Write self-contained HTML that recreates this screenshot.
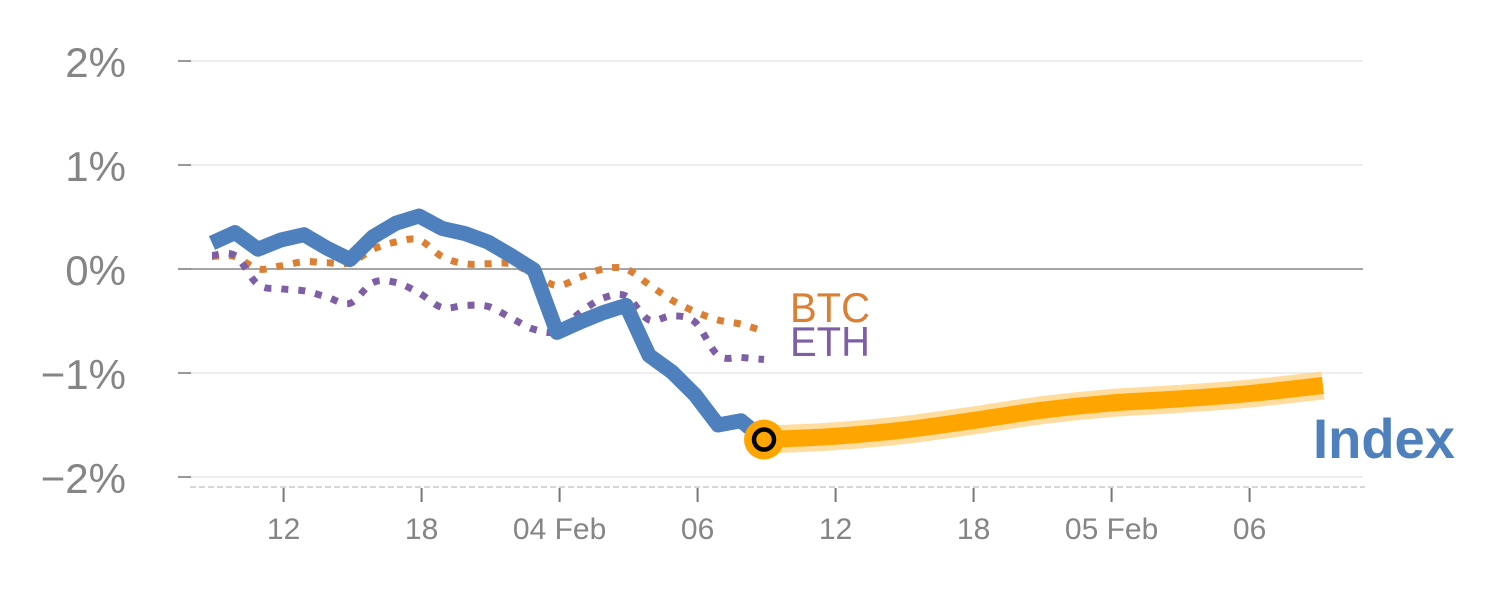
<!DOCTYPE html>
<html><head><meta charset="utf-8"><style>
html,body{margin:0;padding:0;background:#fff;}
svg{display:block;font-family:"Liberation Sans",Arial,sans-serif;}
</style></head><body>
<svg id="chart" width="1500" height="600" viewBox="0 0 1500 600" xmlns="http://www.w3.org/2000/svg">
<g id="grid"></g>
<g id="yaxis"></g>
<g id="xaxis"></g>
<g id="series"></g>
<text x="790" y="322" font-size="42" fill="#DB7F33" textLength="80" lengthAdjust="spacingAndGlyphs">BTC</text>
<text x="790" y="356" font-size="42" fill="#7E5FA6" textLength="80" lengthAdjust="spacingAndGlyphs">ETH</text>
<text x="1313" y="458" font-size="56" font-weight="bold" fill="#4E80BD" textLength="142" lengthAdjust="spacingAndGlyphs">Index</text>
</svg>
<script>
const yTicks = [2, 1, 0, -1, -2];
const yTickLabels = ["2%", "1%", "0%", "\u22121%", "\u22122%"];
const xTicks = [3.2, 9.2, 15.2, 21.2, 27.2, 33.2, 39.2, 45.2];
const xTickLabels = ["12", "18", "04 Feb", "06", "12", "18", "05 Feb", "06"];
const indexValues = [0.25,0.35,0.19,0.28,0.33,0.2,0.09,0.31,0.44,0.51,0.39,0.34,0.26,0.13,-0.01,-0.61,-0.51,-0.42,-0.35,-0.83,-0.99,-1.21,-1.5,-1.46,-1.64];
const btcValues = [0.12,0.12,0.0,0.03,0.07,0.06,0.06,0.19,0.26,0.28,0.12,0.05,0.05,0.05,-0.05,-0.16,-0.08,0.0,0.0,-0.15,-0.3,-0.41,-0.49,-0.53,-0.6];
const ethValues = [0.13,0.13,-0.15,-0.19,-0.21,-0.27,-0.33,-0.13,-0.13,-0.23,-0.37,-0.35,-0.36,-0.47,-0.58,-0.6,-0.42,-0.28,-0.26,-0.49,-0.45,-0.51,-0.83,-0.85,-0.87];
const forecastHours = [24, 27, 30, 33, 36, 39, 42, 45, 48.3];
const forecastValues = [-1.64,-1.61,-1.55,-1.46,-1.36,-1.29,-1.25,-1.2,-1.12];

const NS = "http://www.w3.org/2000/svg";
function xS(t){ return 212 + 23 * t; }
function yS(v){ return 269 - 104 * v; }
function mk(tag, attrs, parent){
  const e = document.createElementNS(NS, tag);
  for (const k in attrs) e.setAttribute(k, attrs[k]);
  parent.appendChild(e); return e;
}
const grid = document.getElementById('grid'), ya = document.getElementById('yaxis'), xa = document.getElementById('xaxis'), ser = document.getElementById('series');
yTicks.forEach((v, i) => {
  const y = yS(v);
  const g = mk('line', {x1:190, x2:1363, y1:y, y2:y, stroke: v===0 ? '#888' : '#e3e3e3', 'stroke-width': v===0 ? 1.5 : 1.2}, grid);
  
  
  const tk = mk('line', {x1:178, x2:191, y1:y, y2:y, stroke:'#777', 'stroke-width':1.5}, ya);
  
  
  const t = mk('text', {x:126, y:y+16, 'font-size':42, fill:'#858585', 'text-anchor':'end'}, ya);
  
  
  t.textContent = yTickLabels[i];
});
const base = mk('line', {x1:190, x2:1365, y1:487, y2:487, stroke:'#d6d6d6', 'stroke-width':2, 'stroke-dasharray':'6,3'}, xa);


xTicks.forEach((t, i) => {
  const x = 210 + 23 * t;
  const tk = mk('line', {x1:x, x2:x, y1:488, y2:502, stroke:'#777', 'stroke-width':2}, xa);
  
  
  const lb = mk('text', {x:x, y:539, 'font-size':30, fill:'#858585', 'text-anchor':'middle'}, xa);
  
  
  lb.textContent = xTickLabels[i];
});
function pts(vals, hrs){ return vals.map((v,i)=> xS(hrs ? hrs[i] : i).toFixed(1)+','+yS(v).toFixed(1)).join(' '); }
function smoothPath(vals, hrs){
  const p = vals.map((v,i)=>[xS(hrs?hrs[i]:i), yS(v)]);
  let d = 'M'+p[0][0]+','+p[0][1];
  for (let i=0;i<p.length-1;i++){
    const p0=p[Math.max(0,i-1)], p1=p[i], p2=p[i+1], p3=p[Math.min(p.length-1,i+2)];
    const c1=[p1[0]+(p2[0]-p0[0])/6, p1[1]+(p2[1]-p0[1])/6];
    const c2=[p2[0]-(p3[0]-p1[0])/6, p2[1]-(p3[1]-p1[1])/6];
    d += ' C'+c1[0]+','+c1[1]+' '+c2[0]+','+c2[1]+' '+p2[0]+','+p2[1];
  }
  return d;
}
const btc = mk('path', {d: smoothPath(btcValues), fill:'none', stroke:'#DB7F33', 'stroke-width':7, 'stroke-dasharray':'7,10'}, ser);


const eth = mk('path', {d: smoothPath(ethValues), fill:'none', stroke:'#7E5FA6', 'stroke-width':7, 'stroke-dasharray':'7,10'}, ser);


const idx = mk('polyline', {points: pts(indexValues), fill:'none', stroke:'#4E80BD', 'stroke-width':15, 'stroke-linejoin':'round'}, ser);


const halo = mk('path', {d: smoothPath(forecastValues, forecastHours), fill:'none', stroke:'#FFD180', 'stroke-width':28, opacity:0.75}, ser);


const fc = mk('path', {d: smoothPath(forecastValues, forecastHours), fill:'none', stroke:'#FFA500', 'stroke-width':17}, ser);


const cx = xS(forecastHours[0]), cy = yS(forecastValues[0]);
const m1 = mk('circle', {cx:cx, cy:cy, r:20, fill:'#FFA500'}, ser);


const m2 = mk('circle', {cx:cx, cy:cy, r:10, fill:'#FFA500', stroke:'#000', 'stroke-width':4.5}, ser);


</script>
</body></html>
